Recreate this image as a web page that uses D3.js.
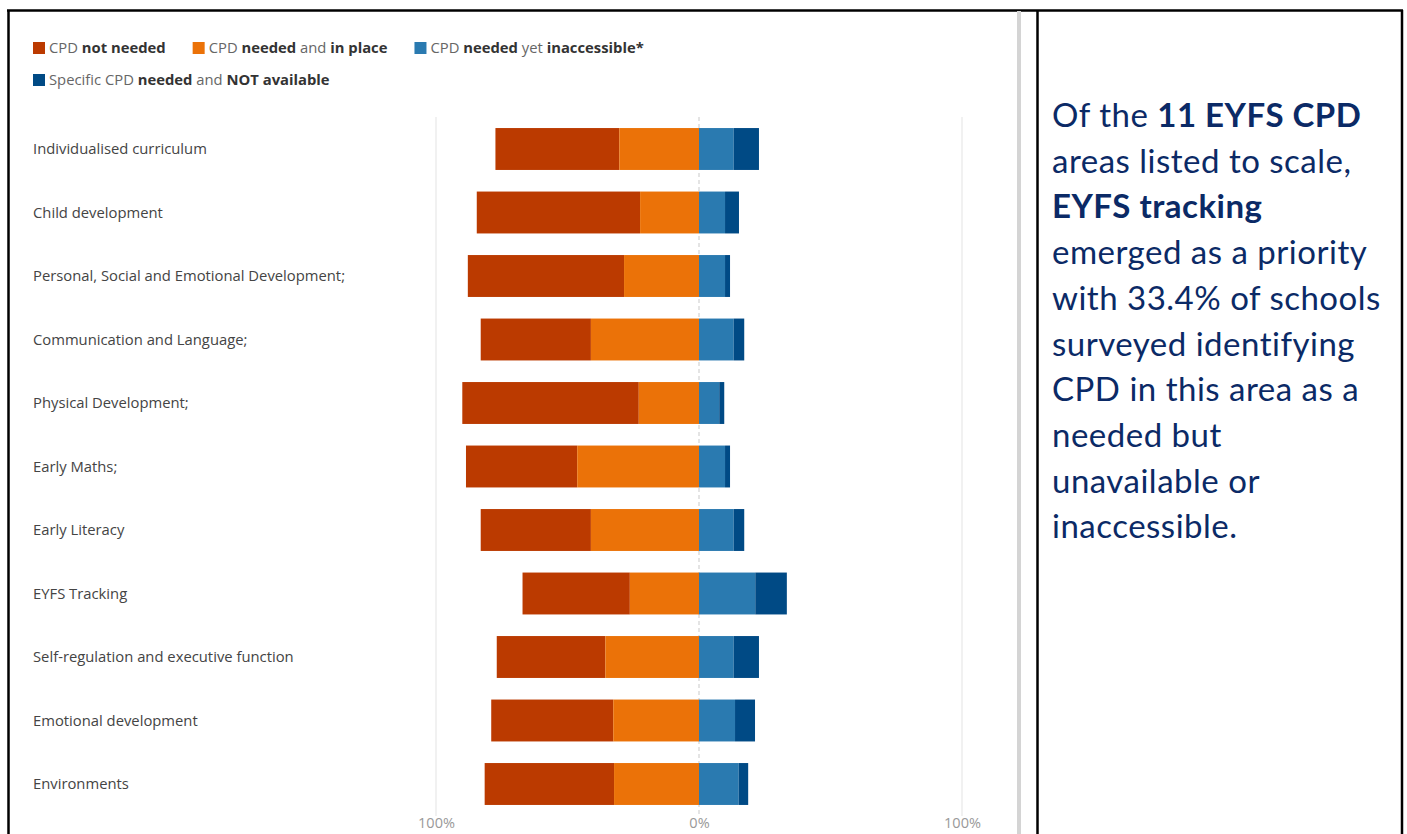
<!DOCTYPE html>
<html>
<head>
<meta charset="utf-8">
<script src="https://cdn.jsdelivr.net/npm/d3@7"></script>
<style>
  html, body { margin: 0; padding: 0; background: #fff; }
  svg { display: block; }
</style>
</head>
<body>
<svg id="page" width="1407" height="834"></svg>
<script>
// EYFS CPD areas, top to bottom
const categories = [
  "Individualised curriculum",
  "Child development",
  "Personal, Social and Emotional Development;",
  "Communication and Language;",
  "Physical Development;",
  "Early Maths;",
  "Early Literacy",
  "EYFS Tracking",
  "Self-regulation and executive function",
  "Emotional development",
  "Environments"
];

// Share of schools (%) per response, in category order
const notNeeded     = [47.1, 62.1, 59.4, 41.9, 67.1, 42.3, 41.9, 40.8, 41.3, 46.4, 49.2];
const neededInPlace = [30.3, 22.4, 28.5, 41.1, 22.9, 46.3, 41.1, 26.3, 35.6, 32.6, 32.3];
const inaccessible  = [13.2,  9.9,  9.9, 13.2,  7.7,  9.9, 13.2, 21.4, 13.2, 13.7, 15.1];
const notAvailable  = [ 9.6,  5.3,  1.9,  4.0,  1.9,  1.9,  4.0, 12.0,  9.6,  7.6,  3.6];

const tickValues = [-100, 0, 100];
const tickLabels = ["100%", "0%", "100%"];

const seriesColors = ["#bb3a00", "#eb7208", "#2a7ab0", "#004a85"];

// Legend entries: pieces of [text, bold?]
const legendItems = [
  [["CPD ", false], ["not needed", true]],
  [["CPD ", false], ["needed", true], [" and ", false], ["in place", true]],
  [["CPD ", false], ["needed", true], [" yet ", false], ["inaccessible*", true]],
  [["Specific CPD ", false], ["needed", true], [" and ", false], ["NOT available", true]]
];

const svg = d3.select("#page");
const chartFont = "'Open Sans', sans-serif";

// ---- table frame -------------------------------------------------------
const frame = svg.append("g").attr("stroke", "#000").attr("stroke-width", 2.5);
frame.append("line").attr("x1", 7).attr("x2", 1403).attr("y1", 10.5).attr("y2", 10.5);
frame.append("line").attr("x1", 8.5).attr("x2", 8.5).attr("y1", 10).attr("y2", 834);
frame.append("line").attr("x1", 1037.5).attr("x2", 1037.5).attr("y1", 10).attr("y2", 834);
frame.append("line").attr("x1", 1402).attr("x2", 1402).attr("y1", 10).attr("y2", 834);
svg.append("rect").attr("x", 1017).attr("y", 11).attr("width", 4).attr("height", 823).attr("fill", "#d4d4d4");

// ---- scales ------------------------------------------------------------
const x = d3.scaleLinear().domain([-100, 100]).range([436, 962]);
const y = d3.scaleBand().domain(categories).range([117.25, 815.75])
  .paddingInner(0.34).paddingOuter(0.17);

// ---- gridlines ---------------------------------------------------------
const grid = svg.append("g");
grid.selectAll("line").data(tickValues).join("line")
  .attr("x1", d => x(d)).attr("x2", d => x(d))
  .attr("y1", 117).attr("y2", 816)
  .attr("stroke", d => d === 0 ? "#dcdcdc" : "#ececec")
  .attr("stroke-width", 1.5)
  .attr("stroke-dasharray", d => d === 0 ? "4,3" : null);

// ---- stacked diverging bars -------------------------------------------
const rows = categories.map((c, i) => ({
  cat: c,
  segs: [
    [-(notNeeded[i] + neededInPlace[i]), -neededInPlace[i]],
    [-neededInPlace[i], 0],
    [0, inaccessible[i]],
    [inaccessible[i], inaccessible[i] + notAvailable[i]]
  ]
}));

svg.append("g").selectAll("g").data(rows).join("g")
  .attr("transform", d => `translate(0,${y(d.cat)})`)
  .selectAll("rect").data(d => d.segs).join("rect")
  .attr("x", d => x(d[0]))
  .attr("width", d => x(d[1]) - x(d[0]))
  .attr("height", y.bandwidth())
  .attr("fill", (d, j) => seriesColors[j]);

// ---- category labels ---------------------------------------------------
svg.append("g").selectAll("text").data(categories).join("text")
  .attr("x", 33)
  .attr("y", d => y(d) + y.bandwidth() / 2)
  .attr("dy", "0.35em")
  .attr("font-family", chartFont)
  .attr("font-size", 14.8)
  .attr("fill", "#444")
  .text(d => d);

// ---- bottom axis -------------------------------------------------------
const axis = d3.axisBottom(x)
  .tickValues(tickValues)
  .tickFormat((d, i) => tickLabels[i])
  .tickSize(0)
  .tickPadding(2);
const axisG = svg.append("g").attr("transform", "translate(0,816)").call(axis);
axisG.select(".domain").remove();
axisG.selectAll("text")
  .attr("font-family", chartFont)
  .attr("font-size", 14.5)
  .attr("fill", "#999");

// ---- legend ------------------------------------------------------------
const legend = svg.append("g").attr("font-family", chartFont).attr("font-size", 14.8);
const legendRows = [[0, 1, 2], [3]];
const legendRowY = [48, 80];
legendRows.forEach((row, r) => {
  let cx = 33;
  row.forEach(idx => {
    legend.append("rect")
      .attr("x", cx).attr("y", legendRowY[r] - 6)
      .attr("width", 12).attr("height", 12)
      .attr("fill", seriesColors[idx]);
    const t = legend.append("text")
      .attr("x", cx + 16).attr("y", legendRowY[r]).attr("dy", "0.35em");
    legendItems[idx].forEach(([s, b]) => {
      t.append("tspan")
        .attr("font-weight", b ? 700 : 400)
        .attr("fill", b ? "#333" : "#666")
        .text(s);
    });
    cx += 16 + t.node().getComputedTextLength() + 27;
  });
});

// ---- commentary --------------------------------------------------------
const eyfsIdx = categories.indexOf("EYFS Tracking");
const gapShare = d3.format(".1f")(inaccessible[eyfsIdx] + notAvailable[eyfsIdx]);
const noteLines = [
  [["Of the ", false], ["11 EYFS CPD", true]],
  [["areas listed to scale,", false]],
  [["EYFS tracking", true]],
  [["emerged as a priority", false]],
  [[`with ${gapShare}% of schools`, false]],
  [["surveyed identifying", false]],
  [["CPD in this area as a", false]],
  [["needed but", false]],
  [["unavailable or", false]],
  [["inaccessible.", false]]
];
const note = svg.append("g")
  .attr("font-family", "Lato, 'Open Sans', sans-serif")
  .attr("font-size", 33)
  .attr("letter-spacing", 0.5)
  .attr("fill", "#0b2a66");
noteLines.forEach((parts, i) => {
  const t = note.append("text").attr("x", 1052).attr("y", 127 + i * 45.7);
  parts.forEach(([s, b]) => t.append("tspan").attr("font-weight", b ? 700 : 400).text(s));
});
</script>
</body>
</html>
